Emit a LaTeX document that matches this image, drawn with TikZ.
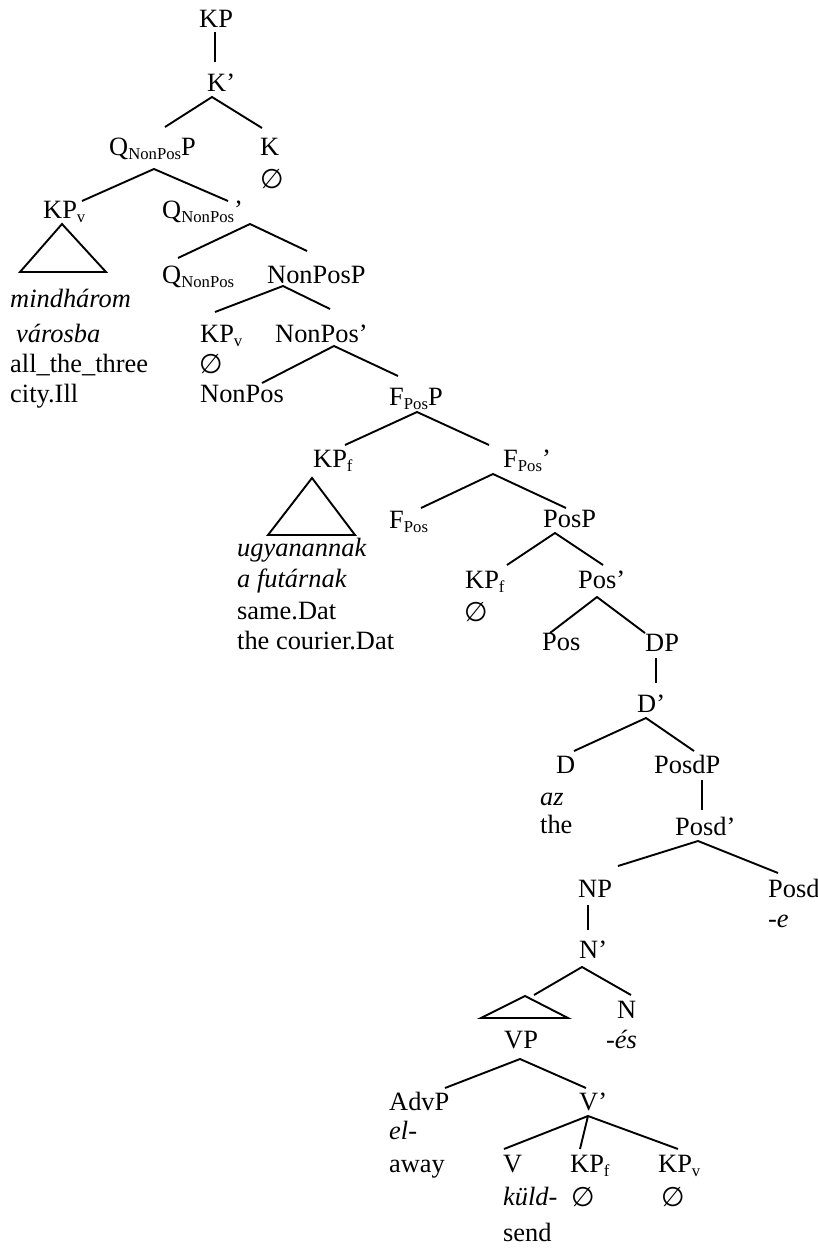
\documentclass[tikz,border=0pt]{standalone}
\usepackage{fontspec}
\setmainfont{Liberation Serif}
\newfontfamily\emptyfont{DejaVu Sans}
\newcommand{\esym}{{\emptyfont\fontsize{27}{30}\selectfont ∅}}
\newcommand{\sbs}[1]{\raisebox{-4pt}{\fontsize{16.7}{17}\selectfont #1}}
\begin{document}
\begin{tikzpicture}[x=1pt,y=-1pt,
  lbl/.style={anchor=base west, inner sep=0pt, font=\fontsize{26.4}{31}\selectfont},
  it/.style={lbl, font=\fontsize{26.4}{31}\selectfont\itshape},
  branch/.style={line width=1.9pt},
  roof/.style={line width=1.9pt, line join=miter}]
\useasboundingbox (0,0) rectangle (818,1248);
% labels
\node[lbl] (KP) at (199,27) {KP};
\node[lbl] (Kbar) at (207,91) {K’};
\node[lbl] (QP) at (109,155) {Q\sbs{NonPos}P};
\node[lbl] (K) at (260,155) {K};
\node[lbl] (Knull) at (260,188) {\esym};
\node[lbl] (KPvA) at (43,218) {KP\sbs{v}};
\node[lbl] (Qbar) at (162,218) {Q\sbs{NonPos}’};
\node[it] (w1a) at (10,307) {mindhárom};
\node[it] (w1b) at (16,342) {városba};
\node[lbl] (g1a) at (10,372) {all\_the\_three};
\node[lbl] (g1b) at (10,402) {city.Ill};
\node[lbl] (Qhead) at (162,283) {Q\sbs{NonPos}};
\node[lbl] (NonPosP) at (267,283) {NonPosP};
\node[lbl] (KPvB) at (200,342) {KP\sbs{v}};
\node[lbl] (KPvBnull) at (199,373) {\esym};
\node[lbl] (NPbar) at (275,342) {NonPos’};
\node[lbl] (NonPos) at (200,402) {NonPos};
\node[lbl] (FPosP) at (389,405) {F\sbs{Pos}P};
\node[lbl] (KPfA) at (313,467) {KP\sbs{f}};
\node[lbl] (FPbar) at (503,467) {F\sbs{Pos}’};
\node[it] (w2a) at (237,556) {ugyanannak};
\node[it] (w2b) at (237,587) {a futárnak};
\node[lbl] (g2a) at (237,619) {same.Dat};
\node[lbl] (g2b) at (237,649) {the courier.Dat};
\node[lbl] (FPos) at (389,528) {F\sbs{Pos}};
\node[lbl] (PosP) at (543,527) {PosP};
\node[lbl] (KPfB) at (465,588) {KP\sbs{f}};
\node[lbl] (KPfBnull) at (464,621) {\esym};
\node[lbl] (Posbar) at (578,588) {Pos’};
\node[lbl] (Pos) at (542,650) {Pos};
\node[lbl] (DP) at (645,651) {DP};
\node[lbl] (Dbar) at (637,712) {D’};
\node[lbl] (D) at (556,773) {D};
\node[lbl] (PosdP) at (654,773) {PosdP};
\node[it] (az) at (540,805) {az};
\node[lbl] (the) at (540,833) {the};
\node[lbl] (Posdbar) at (675,835) {Posd’};
\node[lbl] (NP) at (578,897) {NP};
\node[lbl] (Posd) at (768,897) {Posd};
\node[it] (e) at (768,927) {-e};
\node[lbl] (Nbar) at (579,958) {N’};
\node[lbl] (N) at (617,1018) {N};
\node[it] (es) at (606,1048) {-és};
\node[lbl] (VP) at (504,1048) {VP};
\node[lbl] (AdvP) at (389,1110) {AdvP};
\node[lbl] (Vbar) at (579,1110) {V’};
\node[it] (el) at (389,1139) {el-};
\node[lbl] (away) at (389,1172) {away};
\node[lbl] (V) at (503,1172) {V};
\node[lbl] (KPfC) at (570,1172) {KP\sbs{f}};
\node[lbl] (KPvC) at (658,1172) {KP\sbs{v}};
\node[it] (kuld) at (503,1205) {küld-};
\node[lbl] (n1) at (571,1206) {\esym};
\node[lbl] (n2) at (661,1206) {\esym};
\node[lbl] (send) at (503,1241) {send};
% roofs (triangles)
\coordinate (t1) at (62,224);
\coordinate (t2) at (312,478);
\coordinate (t3) at (525,996);
\draw[roof] (t1) -- ++(-42,48) -- ++(86,0) -- cycle;
\draw[roof] (t2) -- ++(-44,57) -- ++(87,0) -- cycle;
\draw[roof] (t3) -- ++(-44,22) -- ++(87,0) -- cycle;
% branches
\draw[branch] ([shift={(16,5)}]KP.base west) -- ([shift={(8,-29)}]Kbar.base west);
\draw[branch] ([shift={(56,-28)}]QP.base west) -- ([shift={(5,6)}]Kbar.base west) -- ([shift={(2,-27)}]K.base west);
\draw[branch] ([shift={(39,-17)}]KPvA.base west) -- ([shift={(45,14)}]QP.base west) -- ([shift={(66,-17)}]Qbar.base west);
\draw[branch] ([shift={(16,-25)}]Qhead.base west) -- ([shift={(88,6)}]Qbar.base west) -- ([shift={(40,-32)}]NonPosP.base west);
\draw[branch] ([shift={(15,-30)}]KPvB.base west) -- ([shift={(16,3)}]NonPosP.base west) -- ([shift={(55,-33)}]NPbar.base west);
\draw[branch] ([shift={(62,-19)}]NonPos.base west) -- ([shift={(59,4)}]NPbar.base west) -- ([shift={(9,-29)}]FPosP.base west);
\draw[branch] ([shift={(32,-22)}]KPfA.base west) -- ([shift={(28,7)}]FPosP.base west) -- ([shift={(-14,-22)}]FPbar.base west);
\draw[branch] ([shift={(32,-20)}]FPos.base west) -- ([shift={(-10,7)}]FPbar.base west) -- ([shift={(23,-19)}]PosP.base west);
\draw[branch] ([shift={(42,-23)}]KPfB.base west) -- ([shift={(12,6)}]PosP.base west) -- ([shift={(25,-23)}]Posbar.base west);
\draw[branch] ([shift={(8,-17)}]Pos.base west) -- ([shift={(19,9)}]Posbar.base west) -- ([shift={(0,-18)}]DP.base west);
\draw[branch] ([shift={(11,7)}]DP.base west) -- ([shift={(19,-29)}]Dbar.base west);
\draw[branch] ([shift={(18,-22)}]D.base west) -- ([shift={(9,6)}]Dbar.base west) -- ([shift={(40,-22)}]PosdP.base west);
\draw[branch] ([shift={(48,7)}]PosdP.base west) -- ([shift={(27,-25)}]Posdbar.base west);
\draw[branch] ([shift={(40,-31)}]NP.base west) -- ([shift={(23,6)}]Posdbar.base west) -- ([shift={(10,-24)}]Posd.base west);
\draw[branch] ([shift={(10,8)}]NP.base west) -- ([shift={(9,-28)}]Nbar.base west);
\draw[branch] ([shift={(9,-1)}]t3) -- ([shift={(3,9)}]Nbar.base west) -- ([shift={(14,-23)}]N.base west);
\draw[branch] ([shift={(56,-22)}]AdvP.base west) -- ([shift={(16,11)}]VP.base west) -- ([shift={(7,-22)}]Vbar.base west);
\draw[branch] ([shift={(1,-23)}]V.base west) -- ([shift={(9,6)}]Vbar.base west) -- ([shift={(20,-23)}]KPvC.base west);
\draw[branch] ([shift={(9,6)}]Vbar.base west) -- ([shift={(10,-23)}]KPfC.base west);
\end{tikzpicture}
\end{document}
